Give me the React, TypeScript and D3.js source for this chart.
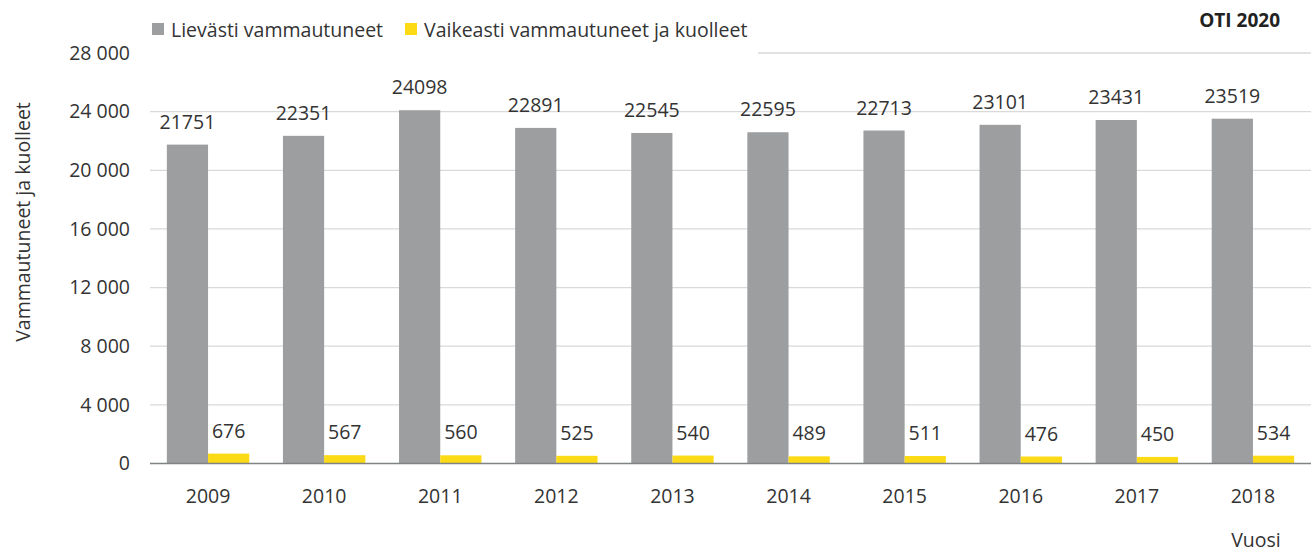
import React from "react";
import * as d3 from "d3";

const years = ["2009", "2010", "2011", "2012", "2013", "2014", "2015", "2016", "2017", "2018"];
const lievasti = [21751, 22351, 24098, 22891, 22545, 22595, 22713, 23101, 23431, 23519];
const vaikeasti = [676, 567, 560, 525, 540, 489, 511, 476, 450, 534];
const yTicks = [0, 4000, 8000, 12000, 16000, 20000, 24000, 28000];
const seriesNames = ["Lievästi vammautuneet", "Vaikeasti vammautuneet ja kuolleet"];
const colors = ["#9D9E9F", "#FCDA16"];

const W = 1314, H = 554;
const FONT = "'Open Sans', sans-serif";
const FS = 19.5;

export default function App() {
  const x = d3.scaleBand().domain(years).range([150, 1311]).paddingInner(0.29).paddingOuter(0.145);
  const y = d3.scaleLinear().domain([0, 28000]).range([463.5, 53]);
  const inner = d3.scaleBand().domain(["a", "b"]).range([0, x.bandwidth()]);
  const fmt = (v: number) => d3.format(",")(v).replace(/,/g, " ");
  const series = [lievasti, vaikeasti];
  return (
    <svg width={W} height={H} style={{ position: "absolute", left: 0, top: 0, background: "#fff" }} fontFamily={FONT}>
      {yTicks.map((t) => (
        <g key={t}>
          {t > 0 && <line x1={150} x2={1311} y1={y(t)} y2={y(t)} stroke="#D9D9D9" strokeWidth={1.3} />}
          <text x={130} y={y(t)} dy="0.35em" textAnchor="end" fontSize={FS} fill="#333">{fmt(t)}</text>
        </g>
      ))}
      {/* legend background hides top gridline */}
      <rect x={148} y={12} width={610} height={50} fill="#fff" />
      {seriesNames.map((n, i) => {
        const lx = [152, 405][i];
        return (
          <g key={n}>
            <rect x={lx} y={23} width={12} height={12} fill={colors[i]} />
            <text x={lx + 19} y={37} fontSize={FS} fill="#333">{n}</text>
          </g>
        );
      })}
      <text x={1280} y={27} textAnchor="end" fontSize={19} fontWeight="bold" fill="#222">OTI 2020</text>
      {years.map((yr, i) => (
        <g key={yr} transform={`translate(${x(yr)},0)`}>
          {series.map((s, k) => {
            const bx = inner(k === 0 ? "a" : "b")!;
            const bw = inner.bandwidth();
            return (
              <g key={k}>
                <rect x={bx} y={y(s[i])} width={bw} height={y(0) - y(s[i])} fill={colors[k]} />
                <text x={bx + bw / 2} y={y(s[i]) - 16} textAnchor="middle" fontSize={FS} fill="#333">{s[i]}</text>
              </g>
            );
          })}
          <text x={x.bandwidth() / 2} y={503} textAnchor="middle" fontSize={FS} fill="#333">{yr}</text>
        </g>
      ))}
      <line x1={150} x2={1311} y1={y(0)} y2={y(0)} stroke="#7F8385" strokeWidth={1.5} />
      <text transform={`translate(30,222) rotate(-90)`} textAnchor="middle" fontSize={FS} fill="#333">Vammautuneet ja kuolleet</text>
      <text x={1256} y={547} textAnchor="middle" fontSize={FS} fill="#333">Vuosi</text>
    </svg>
  );
}
